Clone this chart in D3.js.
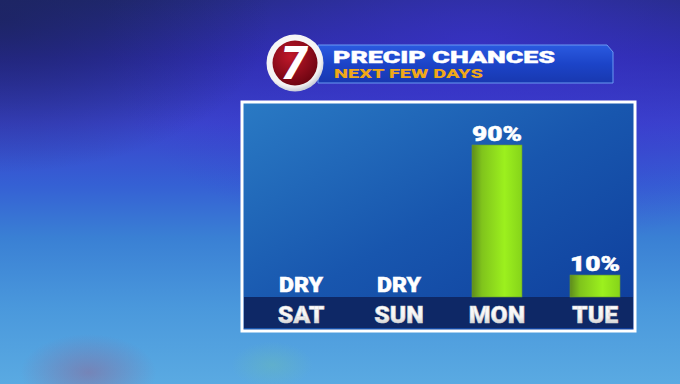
<!DOCTYPE html>
<html>
<head>
<meta charset="utf-8">
<script src="https://cdn.jsdelivr.net/npm/d3@7"></script>
<style>
  html, body { margin: 0; padding: 0; background: #2a3fb0; }
  svg { display: block; }
</style>
</head>
<body>
<svg id="chart" width="680" height="384"></svg>
<script>
// chart data
var days = ["SAT", "SUN", "MON", "TUE"];
var chances = [0, 0, 90, 10];
var valueLabels = ["DRY", "DRY", "90%", "10%"];
var title = "PRECIP CHANCES";
var subtitle = "NEXT FEW DAYS";

var W = 680, H = 384;
var heavy = "Roboto, 'Liberation Sans', Arial, sans-serif";
var svg = d3.select("#chart");
var defs = svg.append("defs");

function linear(id, x1, y1, x2, y2, stops) {
  var g = defs.append("linearGradient").attr("id", id)
    .attr("x1", x1).attr("y1", y1).attr("x2", x2).attr("y2", y2);
  stops.forEach(function(s) {
    g.append("stop").attr("offset", s[0]).attr("stop-color", s[1]).attr("stop-opacity", s[2] == null ? 1 : s[2]);
  });
  return g;
}
function radial(id, cx, cy, r, stops) {
  var g = defs.append("radialGradient").attr("id", id)
    .attr("cx", cx).attr("cy", cy).attr("r", r);
  stops.forEach(function(s) {
    g.append("stop").attr("offset", s[0]).attr("stop-color", s[1]).attr("stop-opacity", s[2] == null ? 1 : s[2]);
  });
  return g;
}

// stretch heavy text a bit wider, the broadcast font is extended
function widen(sel, factor) {
  sel.each(function() {
    var len = this.getComputedTextLength();
    d3.select(this).attr("textLength", len * factor).attr("lengthAdjust", "spacingAndGlyphs");
  });
}

// background gradients
linear("bg", 0, 0, 0, 1, [[0, "#222a78"], [0.15, "#2c2ca8"], [0.32, "#3a44cc"], [0.48, "#3560d4"], [0.62, "#3a80d4"], [0.8, "#4a98dc"], [1, "#5aaae2"]]);
radial("glowTop", 0.7, 0.12, 0.55, [[0, "#3c34d0", 0.7], [1, "#3c34d0", 0]]);
radial("darkCorner", 0.0, 0.05, 0.4, [[0, "#1a2258", 0.7], [1, "#1a2258", 0]]);
radial("pinkGlow", 0.13, 0.97, 0.1, [[0, "#a0507a", 0.4], [1, "#a0507a", 0]]);
radial("greenGlow", 0.4, 0.95, 0.06, [[0, "#70c0a8", 0.35], [1, "#70c0a8", 0]]);
linear("panelFill", 0, 0, 1, 1, [[0, "#2a7ac4"], [0.5, "#1856ae"], [1, "#0e3c9a"]]);
linear("barFill", 0, 0, 1, 0, [[0, "#5e8c1c"], [0.2, "#80c41c"], [0.65, "#9cf01e"], [1, "#86d41a"]]);
linear("dayFill", 0, 0, 0, 1, [[0, "#ffffff"], [0.55, "#f4f4f4"], [1, "#b8b8b8"]]);
linear("bannerFill", 0, 0, 0, 1, [[0, "#2a5ae0"], [0.5, "#1c44c8"], [1, "#1838b0"]]);
radial("logoRed", 0.4, 0.35, 0.7, [[0, "#c0182a"], [1, "#6a0410"]]);
radial("logoRing", 0.45, 0.4, 0.6, [[0, "#ffffff"], [0.85, "#f2f2f2"], [1, "#c8ccd8"]]);

svg.append("rect").attr("width", W).attr("height", H).attr("fill", "url(#bg)");
svg.append("rect").attr("width", W).attr("height", H).attr("fill", "url(#glowTop)");
svg.append("rect").attr("width", W).attr("height", H).attr("fill", "url(#darkCorner)");
svg.append("rect").attr("width", W).attr("height", H).attr("fill", "url(#pinkGlow)");
svg.append("rect").attr("width", W).attr("height", H).attr("fill", "url(#greenGlow)");

// header banner
svg.append("path")
  .attr("d", "M318,45 L607,45 L613,52 L613,83 L318,83 Z")
  .attr("fill", "url(#bannerFill)")
  .attr("stroke", "#6a9af2").attr("stroke-width", 1);

svg.append("text")
  .attr("x", 333).attr("y", 63)
  .attr("textLength", 222).attr("lengthAdjust", "spacingAndGlyphs")
  .attr("font-family", heavy)
  .attr("font-weight", 900).attr("font-size", 17)
  .attr("fill", "#ffffff")
  .attr("stroke", "#ffffff").attr("stroke-width", 0.4)
  .text(title);

svg.append("text")
  .attr("x", 334).attr("y", 78)
  .attr("textLength", 149).attr("lengthAdjust", "spacingAndGlyphs")
  .attr("font-family", heavy)
  .attr("font-weight", 900).attr("font-size", 12.5)
  .attr("fill", "#f0a818")
  .text(subtitle);

// station logo
svg.append("circle").attr("cx", 295).attr("cy", 63).attr("r", 28.5).attr("fill", "url(#logoRing)");
svg.append("circle").attr("cx", 295).attr("cy", 63).attr("r", 22.5).attr("fill", "url(#logoRed)");
svg.append("text")
  .attr("x", 294).attr("y", 79)
  .attr("text-anchor", "middle")
  .attr("font-family", heavy)
  .attr("font-weight", 900).attr("font-style", "italic")
  .attr("font-size", 46)
  .attr("fill", "#ffffff")
  .text("7");

// chart panel
var panel = {x: 242, y: 102, w: 393, h: 229};
svg.append("rect")
  .attr("x", panel.x).attr("y", panel.y).attr("width", panel.w).attr("height", panel.h)
  .attr("fill", "url(#panelFill)")
  .attr("stroke", "#ffffff").attr("stroke-width", 3);

var baseline = 297;

svg.append("rect")
  .attr("x", panel.x + 2).attr("y", baseline).attr("width", panel.w - 4).attr("height", 31)
  .attr("fill", "#0e2866");

var x = d3.scaleBand()
  .domain(days)
  .range([252, 644])
  .paddingInner(0.49)
  .paddingOuter(0.245);

var y = d3.scaleLinear()
  .domain([-3.5, 90])
  .range([baseline, 145]);

var data = days.map(function(d, i) {
  return {day: d, value: chances[i], label: valueLabels[i]};
});

svg.selectAll("rect.bar")
  .data(data.filter(function(d) { return d.value > 0; }))
  .enter().append("rect")
  .attr("class", "bar")
  .attr("x", function(d) { return x(d.day); })
  .attr("y", function(d) { return y(d.value); })
  .attr("width", x.bandwidth())
  .attr("height", function(d) { return baseline - y(d.value); })
  .attr("fill", "url(#barFill)")
  .attr("stroke", "#6a9a30").attr("stroke-width", 0.6);

// value / DRY labels
var valueText = svg.selectAll("text.value")
  .data(data)
  .enter().append("text")
  .attr("class", "value")
  .attr("x", function(d) { return x(d.day) + x.bandwidth() / 2; })
  .attr("y", function(d) { return d.value > 0 ? y(d.value) - 4 : baseline - 5; })
  .attr("text-anchor", "middle")
  .attr("font-family", heavy)
  .attr("font-weight", 900)
  .attr("font-size", 21)
  .attr("fill", "#ffffff")
  .attr("stroke", "#ffffff").attr("stroke-width", 0.5)
  .text(function(d) { return d.label; });
widen(valueText.filter(function(d) { return d.value > 0; }), 1.25);
widen(valueText.filter(function(d) { return d.value === 0; }), 1.1);

// day axis labels
var axis = d3.axisBottom(x).tickSize(0).tickPadding(0);
var gAxis = svg.append("g")
  .attr("transform", "translate(0," + baseline + ")")
  .call(axis);
gAxis.select(".domain").remove();
gAxis.selectAll("text")
  .attr("y", 26).attr("dy", null)
  .attr("font-family", heavy)
  .attr("font-weight", 900)
  .attr("font-size", 23)
  .attr("fill", "url(#dayFill)")
  .attr("stroke", "#d8d8d8").attr("stroke-width", 0.5);
widen(gAxis.selectAll("text"), 1.08);
</script>
</body>
</html>
